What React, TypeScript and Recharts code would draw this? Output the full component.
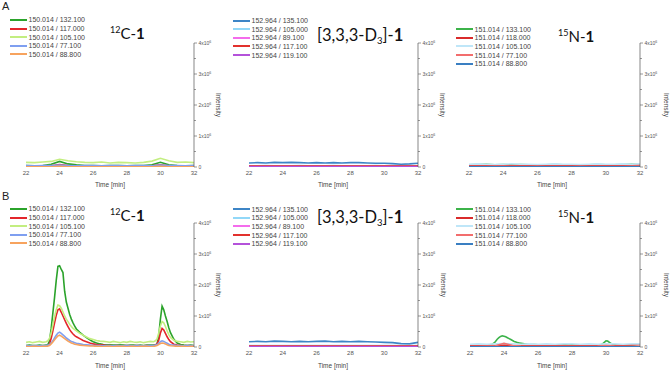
import { LineChart, Line, XAxis, YAxis } from 'recharts'

// retention time grids (min)
const tSparse = [22, 22.5, 23, 23.5, 24, 24.5, 25, 25.5, 26, 26.5, 27, 27.5, 28, 28.5, 29, 29.5, 30, 30.5, 31, 31.5, 32]
const tDense = [
  22.0, 22.2, 22.4, 22.6, 22.8, 23.0, 23.2, 23.3, 23.4, 23.5, 23.6, 23.7, 23.8, 23.9, 24.0, 24.1, 24.2, 24.3, 24.4, 24.5,
  24.6, 24.7, 24.8, 24.9, 25.0, 25.2, 25.4, 25.6, 25.8, 26.0, 26.2, 26.4, 26.6, 26.8, 27.0, 27.2, 27.4, 27.6, 27.8, 28.0,
  28.2, 28.4, 28.6, 28.8, 29.0, 29.2, 29.4, 29.6, 29.7, 29.8, 29.9, 30.0, 30.1, 30.2, 30.3, 30.4, 30.5, 30.6, 30.8, 31.0,
  31.2, 31.4, 31.6, 31.8, 32.0,
]

const timeTicks = [22, 24, 26, 28, 30, 32]
const intensityTicks = [0, 0.5, 1, 1.5, 2, 2.5, 3, 3.5, 4]

// transitions
const mz12C = ['150.014 / 132.100', '150.014 / 117.000', '150.014 / 105.100', '150.014 / 77.100', '150.014 / 88.800']
const mzD3 = ['152.964 / 135.100', '152.964 / 105.000', '152.964 / 89.100', '152.964 / 117.100', '152.964 / 119.100']
const mz15N = ['151.014 / 133.100', '151.014 / 118.000', '151.014 / 105.100', '151.014 / 77.100', '151.014 / 88.800']

const colors12C = ['#2ba32b', '#e3262b', '#c3ee80', '#7f9ff0', '#f7a35e']
const colorsD3 = ['#3d85c6', '#92d8f8', '#f46cec', '#e2312d', '#b452da']
const colors15N = ['#3cb34a', '#d92b2b', '#bfe6f8', '#f26d6d', '#3a7fc2']

// intensities in units of 1x10^6
// A: 12C-1 (sparse grid)
const a1Green = [0.05, 0.04, 0.05, 0.09, 0.18, 0.1, 0.07, 0.05, 0.05, 0.04, 0.05, 0.05, 0.04, 0.05, 0.05, 0.07, 0.15, 0.07, 0.05, 0.04, 0.05]
const a1Red = [0.03, 0.03, 0.03, 0.04, 0.08, 0.05, 0.03, 0.03, 0.02, 0.03, 0.03, 0.02, 0.03, 0.03, 0.03, 0.04, 0.07, 0.04, 0.03, 0.03, 0.03]
const a1LightGreen = [0.15, 0.14, 0.16, 0.18, 0.25, 0.2, 0.17, 0.15, 0.14, 0.16, 0.13, 0.15, 0.14, 0.13, 0.15, 0.19, 0.28, 0.2, 0.15, 0.16, 0.14]
const a1Blue = [0.05, 0.04, 0.05, 0.05, 0.06, 0.05, 0.04, 0.05, 0.05, 0.04, 0.05, 0.05, 0.04, 0.05, 0.05, 0.04, 0.06, 0.05, 0.05, 0.04, 0.05]
const a1Orange = [0.01, 0.01, 0.01, 0.01, 0.02, 0.01, 0.01, 0.01, 0.01, 0.01, 0.01, 0.01, 0.01, 0.01, 0.01, 0.01, 0.02, 0.01, 0.01, 0.01, 0.01]

// A: D3-1 (sparse grid)
const a2Blue = [0.13, 0.14, 0.13, 0.15, 0.14, 0.15, 0.14, 0.13, 0.14, 0.13, 0.14, 0.13, 0.14, 0.14, 0.13, 0.12, 0.12, 0.11, 0.09, 0.1, 0.12]
const a2LightBlue = [0.04, 0.04, 0.05, 0.04, 0.04, 0.04, 0.05, 0.04, 0.04, 0.04, 0.05, 0.04, 0.04, 0.04, 0.04, 0.05, 0.04, 0.04, 0.04, 0.04, 0.04]
const a2Pink = [0.02, 0.02, 0.02, 0.02, 0.02, 0.02, 0.02, 0.02, 0.02, 0.02, 0.02, 0.02, 0.02, 0.02, 0.02, 0.02, 0.02, 0.02, 0.02, 0.02, 0.02]
const a2Red = [0.03, 0.03, 0.03, 0.03, 0.03, 0.03, 0.03, 0.03, 0.03, 0.03, 0.03, 0.03, 0.03, 0.03, 0.03, 0.03, 0.03, 0.03, 0.03, 0.03, 0.03]
const a2Purple = [0.01, 0.01, 0.01, 0.01, 0.01, 0.01, 0.01, 0.01, 0.01, 0.01, 0.01, 0.01, 0.01, 0.01, 0.01, 0.01, 0.01, 0.01, 0.01, 0.01, 0.01]

// A: 15N-1 (sparse grid)
const a3Green = [0.07, 0.08, 0.09, 0.07, 0.08, 0.07, 0.08, 0.07, 0.06, 0.07, 0.08, 0.07, 0.06, 0.07, 0.07, 0.08, 0.07, 0.07, 0.08, 0.09, 0.08]
const a3Red = [0.04, 0.05, 0.05, 0.04, 0.04, 0.05, 0.04, 0.04, 0.04, 0.05, 0.04, 0.04, 0.04, 0.05, 0.04, 0.05, 0.05, 0.05, 0.06, 0.07, 0.07]
const a3LightBlue = [0.09, 0.1, 0.09, 0.08, 0.09, 0.1, 0.09, 0.09, 0.08, 0.09, 0.1, 0.09, 0.09, 0.08, 0.09, 0.1, 0.09, 0.09, 0.1, 0.09, 0.1]
const a3Salmon = [0.02, 0.02, 0.02, 0.02, 0.03, 0.02, 0.02, 0.02, 0.02, 0.02, 0.02, 0.02, 0.02, 0.02, 0.02, 0.02, 0.02, 0.02, 0.02, 0.02, 0.02]
const a3Blue = [0.01, 0.01, 0.01, 0.01, 0.01, 0.01, 0.01, 0.01, 0.01, 0.01, 0.01, 0.01, 0.01, 0.01, 0.01, 0.01, 0.01, 0.01, 0.01, 0.01, 0.01]

// B: 12C-1 (dense grid)
const b1Green = [
  0.05, 0.06, 0.05, 0.05, 0.06, 0.05, 0.06, 0.08, 0.2, 0.6, 1.1, 1.6, 2.15, 2.6, 2.62, 2.5, 2.4, 1.8, 1.45, 1.25,
  1.05, 0.9, 0.78, 0.67, 0.58, 0.47, 0.38, 0.3, 0.23, 0.17, 0.13, 0.1, 0.08, 0.07, 0.07, 0.06, 0.06, 0.07, 0.06, 0.05,
  0.06, 0.06, 0.05, 0.06, 0.05, 0.06, 0.06, 0.06, 0.07, 0.1, 0.35, 0.9, 1.32, 1.2, 1.0, 0.82, 0.62, 0.46, 0.25, 0.13,
  0.08, 0.06, 0.05, 0.06, 0.05,
]
const b1Red = [
  0.04, 0.03, 0.04, 0.04, 0.03, 0.04, 0.04, 0.05, 0.1, 0.28, 0.52, 0.78, 1.02, 1.2, 1.23, 1.12, 1.0, 0.88, 0.76, 0.66,
  0.56, 0.48, 0.42, 0.37, 0.33, 0.27, 0.21, 0.17, 0.13, 0.1, 0.08, 0.07, 0.06, 0.05, 0.05, 0.04, 0.05, 0.04, 0.04, 0.05,
  0.04, 0.04, 0.05, 0.04, 0.04, 0.05, 0.04, 0.05, 0.06, 0.1, 0.22, 0.45, 0.6, 0.55, 0.44, 0.33, 0.24, 0.17, 0.09, 0.06,
  0.05, 0.04, 0.05, 0.04, 0.04,
]
const b1LightGreen = [
  0.15, 0.17, 0.14, 0.16, 0.18, 0.15, 0.17, 0.2, 0.28, 0.45, 0.72, 0.98, 1.2, 1.35, 1.33, 1.25, 1.13, 1.0, 0.9, 0.82,
  0.73, 0.66, 0.6, 0.56, 0.52, 0.44, 0.38, 0.32, 0.27, 0.24, 0.21, 0.19, 0.18, 0.17, 0.15, 0.18, 0.16, 0.14, 0.17, 0.15,
  0.18, 0.16, 0.15, 0.17, 0.14, 0.16, 0.18, 0.17, 0.2, 0.26, 0.45, 0.68, 0.82, 0.78, 0.66, 0.52, 0.4, 0.31, 0.22, 0.18,
  0.17, 0.15, 0.18, 0.16, 0.17,
]
const b1Blue = [
  0.05, 0.04, 0.05, 0.05, 0.04, 0.05, 0.05, 0.06, 0.08, 0.13, 0.2, 0.29, 0.38, 0.45, 0.48, 0.44, 0.39, 0.34, 0.29, 0.25,
  0.21, 0.18, 0.16, 0.14, 0.12, 0.1, 0.08, 0.07, 0.06, 0.05, 0.05, 0.05, 0.04, 0.05, 0.05, 0.04, 0.05, 0.05, 0.04, 0.05,
  0.05, 0.04, 0.05, 0.05, 0.04, 0.05, 0.05, 0.05, 0.06, 0.08, 0.12, 0.17, 0.2, 0.18, 0.15, 0.12, 0.09, 0.07, 0.06, 0.05,
  0.05, 0.04, 0.05, 0.05, 0.04,
]
const b1Orange = [
  0.02, 0.01, 0.02, 0.02, 0.01, 0.02, 0.02, 0.03, 0.05, 0.1, 0.16, 0.23, 0.3, 0.36, 0.38, 0.35, 0.31, 0.27, 0.23, 0.19,
  0.16, 0.13, 0.11, 0.09, 0.08, 0.06, 0.05, 0.04, 0.03, 0.03, 0.02, 0.02, 0.01, 0.02, 0.02, 0.01, 0.02, 0.02, 0.02, 0.01,
  0.02, 0.02, 0.01, 0.02, 0.02, 0.02, 0.01, 0.02, 0.03, 0.05, 0.08, 0.11, 0.13, 0.12, 0.1, 0.07, 0.05, 0.04, 0.03, 0.02,
  0.02, 0.02, 0.01, 0.02, 0.02,
]

// B: D3-1 (sparse grid)
const b2Blue = [0.17, 0.18, 0.17, 0.19, 0.18, 0.17, 0.18, 0.17, 0.18, 0.19, 0.17, 0.18, 0.17, 0.18, 0.17, 0.16, 0.15, 0.14, 0.11, 0.1, 0.15]
const b2LightBlue = [0.05, 0.05, 0.05, 0.05, 0.05, 0.05, 0.05, 0.05, 0.05, 0.05, 0.05, 0.05, 0.05, 0.05, 0.05, 0.05, 0.05, 0.05, 0.05, 0.05, 0.05]
const b2Pink = [0.02, 0.02, 0.02, 0.02, 0.02, 0.02, 0.02, 0.02, 0.02, 0.02, 0.02, 0.02, 0.02, 0.02, 0.02, 0.02, 0.02, 0.02, 0.02, 0.02, 0.02]
const b2Red = [0.03, 0.03, 0.03, 0.03, 0.03, 0.03, 0.03, 0.03, 0.03, 0.03, 0.03, 0.03, 0.03, 0.03, 0.03, 0.03, 0.03, 0.03, 0.03, 0.03, 0.03]
const b2Purple = [0.01, 0.01, 0.01, 0.01, 0.01, 0.01, 0.01, 0.01, 0.01, 0.01, 0.01, 0.01, 0.01, 0.01, 0.01, 0.01, 0.01, 0.01, 0.01, 0.01, 0.01]

// B: 15N-1 (green on dense grid, the rest sparse)
const b3Green = [
  0.06, 0.07, 0.06, 0.07, 0.06, 0.07, 0.08, 0.09, 0.12, 0.18, 0.25, 0.3, 0.34, 0.36, 0.35, 0.33, 0.3, 0.27, 0.24, 0.21,
  0.18, 0.16, 0.14, 0.13, 0.12, 0.1, 0.09, 0.08, 0.08, 0.07, 0.07, 0.06, 0.07, 0.07, 0.06, 0.07, 0.06, 0.07, 0.06, 0.07,
  0.06, 0.06, 0.07, 0.06, 0.07, 0.06, 0.07, 0.07, 0.08, 0.1, 0.15, 0.2, 0.19, 0.15, 0.11, 0.09, 0.08, 0.07, 0.06, 0.06,
  0.07, 0.06, 0.07, 0.08, 0.09,
]
const b3Red = [0.04, 0.04, 0.05, 0.05, 0.07, 0.05, 0.05, 0.04, 0.05, 0.04, 0.05, 0.05, 0.04, 0.05, 0.05, 0.04, 0.05, 0.05, 0.06, 0.07, 0.08]
const b3LightBlue = [0.09, 0.1, 0.09, 0.1, 0.11, 0.1, 0.09, 0.1, 0.09, 0.1, 0.09, 0.1, 0.1, 0.09, 0.1, 0.09, 0.1, 0.1, 0.09, 0.1, 0.1]
const b3Salmon = [0.02, 0.02, 0.03, 0.04, 0.12, 0.05, 0.03, 0.02, 0.02, 0.02, 0.02, 0.02, 0.02, 0.02, 0.02, 0.03, 0.05, 0.03, 0.02, 0.02, 0.02]
const b3Blue = [0.01, 0.01, 0.01, 0.01, 0.01, 0.01, 0.01, 0.01, 0.01, 0.01, 0.01, 0.01, 0.01, 0.01, 0.01, 0.01, 0.01, 0.01, 0.01, 0.01, 0.01]

const FONT = '"Liberation Sans", Arial, sans-serif'
const TITLE_FONT = 'Lato, "Open Sans", sans-serif'

type Trace = { label: string; color: string; t: number[]; v: number[] }

function traces(labels: string[], palette: string[], grids: number[][], values: number[][]): Trace[] {
  return labels.map((label, i) => ({ label, color: palette[i], t: grids[i], v: values[i] }))
}

const a1 = traces(mz12C, colors12C, [tSparse, tSparse, tSparse, tSparse, tSparse], [a1Green, a1Red, a1LightGreen, a1Blue, a1Orange])
const a2 = traces(mzD3, colorsD3, [tSparse, tSparse, tSparse, tSparse, tSparse], [a2Blue, a2LightBlue, a2Pink, a2Red, a2Purple])
const a3 = traces(mz15N, colors15N, [tSparse, tSparse, tSparse, tSparse, tSparse], [a3Green, a3Red, a3LightBlue, a3Salmon, a3Blue])
const b1 = traces(mz12C, colors12C, [tDense, tDense, tDense, tDense, tDense], [b1Green, b1Red, b1LightGreen, b1Blue, b1Orange])
const b2 = traces(mzD3, colorsD3, [tSparse, tSparse, tSparse, tSparse, tSparse], [b2Blue, b2LightBlue, b2Pink, b2Red, b2Purple])
const b3 = traces(mz15N, colors15N, [tDense, tSparse, tSparse, tSparse, tSparse], [b3Green, b3Red, b3LightBlue, b3Salmon, b3Blue])

function IntensityTick(props: any) {
  const { x, y, payload } = props
  const v = payload.value
  const major = Number.isInteger(v)
  return (
    <g>
      <line x1={x} x2={x + (major ? 3 : 2)} y1={y} y2={y} stroke="#555" strokeWidth={0.6} />
      {major && (
        <text x={x + 4.5} y={y} dy="0.35em" fontSize={5} fill="#555" fontFamily={FONT}>
          {v === 0 ? (
            '0'
          ) : (
            <>
              <tspan>{v}x10</tspan>
              <tspan dy={-2} fontSize={3.5}>6</tspan>
            </>
          )}
        </text>
      )}
    </g>
  )
}

interface ChromProps {
  left: number
  top: number
  width: number
  height: number
  plotLeft: number
  plotRight: number
  plotTop: number
  plotBottom: number
  data: Trace[]
}

function Chromatogram({ left, top, width, height, plotLeft, plotRight, plotTop, plotBottom, data }: ChromProps) {
  const axisW = 20
  const xAxisH = 14
  return (
    <div style={{ position: 'absolute', left, top }}>
      <LineChart
        width={width}
        height={height}
        margin={{
          left: plotLeft - left,
          right: left + width - plotRight - axisW,
          top: plotTop - top,
          bottom: top + height - plotBottom - xAxisH,
        }}
      >
        <XAxis
          type="number"
          dataKey="t"
          domain={[22, 32]}
          ticks={timeTicks}
          interval={0}
          allowDataOverflow
          axisLine={false}
          tickLine={false}
          tickSize={0}
          tickMargin={4}
          height={xAxisH}
          tick={{ fontSize: 6, fill: '#555', fontFamily: FONT }}
        />
        <YAxis
          orientation="right"
          domain={[0, 4]}
          ticks={intensityTicks}
          interval={0}
          allowDataOverflow
          width={axisW}
          axisLine={{ stroke: '#555', strokeWidth: 0.7 }}
          tickLine={false}
          tickSize={0}
          tickMargin={0}
          tick={IntensityTick}
        />
        {data.map((tr) => (
          <Line
            key={tr.label}
            data={tr.t.map((t, i) => ({ t, v: tr.v[i] }))}
            dataKey="v"
            type="linear"
            stroke={tr.color}
            strokeWidth={1.6}
            dot={false}
            isAnimationActive={false}
          />
        ))}
      </LineChart>
    </div>
  )
}

function TraceLegend({ left, top, data }: { left: number; top: number; data: Trace[] }) {
  return (
    <div style={{ position: 'absolute', left, top, fontFamily: FONT, fontSize: 7, color: '#444' }}>
      {data.map((tr) => (
        <div key={tr.label} style={{ display: 'flex', alignItems: 'center', height: 8.6, whiteSpace: 'nowrap' }}>
          <span style={{ display: 'inline-block', width: 17, height: 2, background: tr.color, marginRight: 1.5 }} />
          <span>{tr.label}</span>
        </div>
      ))}
    </div>
  )
}

function Title({ left, baseline, size = 15, children }: { left: number; baseline: number; size?: number; children: React.ReactNode }) {
  return (
    <div style={{ position: 'absolute', left, top: baseline - size * 0.8, fontFamily: TITLE_FONT, fontSize: size, lineHeight: `${size}px`, color: '#111', whiteSpace: 'nowrap' }}>
      {children}
    </div>
  )
}

const sup = { fontSize: 9, position: 'relative' as const, top: -6 }
const sub = { fontSize: 9.5, position: 'relative' as const, top: 3 }

function TimeLabel({ x, y }: { x: number; y: number }) {
  return (
    <div style={{ position: 'absolute', left: x, top: y - 3.5, transform: 'translateX(-50%)', fontFamily: FONT, fontSize: 6.5, lineHeight: '7px', color: '#444', whiteSpace: 'nowrap' }}>
      Time [min]
    </div>
  )
}

function IntensityLabel({ x, y }: { x: number; y: number }) {
  return (
    <div style={{ position: 'absolute', left: x, top: y, transform: 'translate(-50%, -50%) rotate(90deg)', fontFamily: FONT, fontSize: 6.5, lineHeight: '7px', color: '#444', whiteSpace: 'nowrap' }}>
      Intensity
    </div>
  )
}

function PanelLetter({ top, children }: { top: number; children: React.ReactNode }) {
  return (
    <div style={{ position: 'absolute', left: 2, top, fontFamily: FONT, fontSize: 11, lineHeight: '11px', color: '#222' }}>{children}</div>
  )
}

export default function App() {
  return (
    <div style={{ position: 'absolute', left: 0, top: 0, width: 672, height: 372, background: '#fff', overflow: 'hidden' }}>
      <Chromatogram left={0} top={0} width={220} height={190} plotLeft={26} plotRight={194} plotTop={43} plotBottom={167} data={a1} />
      <Chromatogram left={220} top={0} width={220} height={190} plotLeft={249} plotRight={418} plotTop={43} plotBottom={167} data={a2} />
      <Chromatogram left={440} top={0} width={232} height={190} plotLeft={469} plotRight={640} plotTop={43} plotBottom={167} data={a3} />
      <Chromatogram left={0} top={186} width={220} height={186} plotLeft={26} plotRight={194} plotTop={223} plotBottom={347} data={b1} />
      <Chromatogram left={220} top={186} width={220} height={186} plotLeft={249} plotRight={418} plotTop={223} plotBottom={347} data={b2} />
      <Chromatogram left={440} top={186} width={232} height={186} plotLeft={470} plotRight={640} plotTop={223} plotBottom={347} data={b3} />

      <PanelLetter top={0.5}>A</PanelLetter>
      <PanelLetter top={190.5}>B</PanelLetter>

      <TraceLegend left={10} top={15.7} data={a1} />
      <TraceLegend left={233} top={16.4} data={a2} />
      <TraceLegend left={456} top={25} data={a3} />
      <TraceLegend left={10} top={204.7} data={b1} />
      <TraceLegend left={233} top={205} data={b2} />
      <TraceLegend left={456} top={205} data={b3} />

      <Title left={110} baseline={37.7}>
        <span style={sup}>12</span>C-<b>1</b>
      </Title>
      <Title left={317} baseline={40} size={16.5}>
        [3,3,3-D<span style={sub}>3</span>]-<b>1</b>
      </Title>
      <Title left={558} baseline={40.5}>
        <span style={sup}>15</span>N-<b>1</b>
      </Title>
      <Title left={110} baseline={220}>
        <span style={sup}>12</span>C-<b>1</b>
      </Title>
      <Title left={317} baseline={222} size={16.5}>
        [3,3,3-D<span style={sub}>3</span>]-<b>1</b>
      </Title>
      <Title left={558} baseline={222}>
        <span style={sup}>15</span>N-<b>1</b>
      </Title>

      <TimeLabel x={110} y={184} />
      <TimeLabel x={333} y={184} />
      <TimeLabel x={552} y={184} />
      <TimeLabel x={110} y={365} />
      <TimeLabel x={333} y={365} />
      <TimeLabel x={552} y={365} />

      <IntensityLabel x={218} y={105} />
      <IntensityLabel x={442} y={105} />
      <IntensityLabel x={666} y={105} />
      <IntensityLabel x={218} y={285} />
      <IntensityLabel x={443} y={285} />
      <IntensityLabel x={666} y={285} />
    </div>
  )
}
